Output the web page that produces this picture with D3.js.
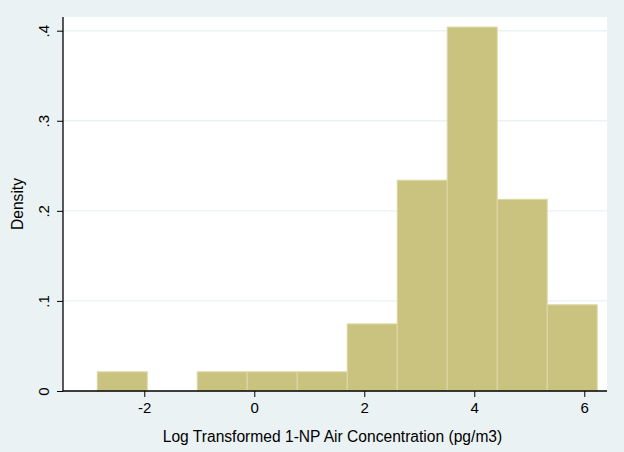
<!DOCTYPE html>
<html>
<head>
<meta charset="utf-8">
<script src="https://cdn.jsdelivr.net/npm/d3@7"></script>
<style>
  html, body { margin: 0; padding: 0; background: #eaf2f3; }
  svg { display: block; font-family: "Liberation Sans", Arial, Helvetica, sans-serif; }
</style>
</head>
<body>
<script>
// Histogram bins: left edge, bin width and density of each bin
const binStart = -2.855;
const binWidth = 0.909;
const densities = [0.0213, 0, 0.0213, 0.0213, 0.0213, 0.0745, 0.234, 0.404, 0.2128, 0.0957];
const xTicks = [-2, 0, 2, 4, 6];
const yTicks = [0, 0.1, 0.2, 0.3, 0.4];
const yTickLabels = ["0", ".1", ".2", ".3", ".4"];
const xTitle = "Log Transformed 1-NP Air Concentration (pg/m3)";
const yTitle = "Density";

const W = 624, H = 452;
const margin = { left: 63, right: 17, top: 17, bottom: 61 };
const tickFont = 15;
const titleFont = 15.6;

const svg = d3.select("body").append("svg").attr("width", W).attr("height", H);
svg.append("rect").attr("width", W).attr("height", H).attr("fill", "#eaf2f3");

const x = d3.scaleLinear().domain([-3.478, 6.413]).range([margin.left, W - margin.right]);
const y = d3.scaleLinear().domain([0, 0.4152]).range([H - margin.bottom, margin.top]);

// plot region
svg.append("rect")
  .attr("x", margin.left).attr("y", margin.top)
  .attr("width", W - margin.left - margin.right)
  .attr("height", H - margin.top - margin.bottom)
  .attr("fill", "#ffffff");

// horizontal grid lines
svg.append("g").selectAll("line")
  .data(yTicks.filter(d => d > 0))
  .join("line")
  .attr("x1", margin.left).attr("x2", W - margin.right)
  .attr("y1", d => y(d)).attr("y2", d => y(d))
  .attr("stroke", "#eaf2f3").attr("stroke-width", 1.4);

// bars
const bins = densities.map((d, i) => ({ x0: binStart + i * binWidth, x1: binStart + (i + 1) * binWidth, d }));
svg.append("g").selectAll("rect")
  .data(bins.filter(b => b.d > 0))
  .join("rect")
  .attr("x", b => x(b.x0))
  .attr("width", b => x(b.x1) - x(b.x0))
  .attr("y", b => y(b.d))
  .attr("height", b => y(0) - y(b.d))
  .attr("fill", "#cac380")
  .attr("stroke", "#dcd8a6")
  .attr("stroke-width", 1);

// axes
const xAxis = d3.axisBottom(x).tickValues(xTicks).tickSize(6).tickPadding(5).tickFormat(d => String(d));
const yAxis = d3.axisLeft(y).tickValues(yTicks).tickSize(6).tickFormat((d, i) => yTickLabels[i]);

const gx = svg.append("g").attr("transform", `translate(0,${H - margin.bottom})`).call(xAxis);
gx.select(".domain").attr("d", `M${margin.left},0H${W - margin.right}`).attr("stroke", "#000").attr("stroke-width", 1.3);
gx.selectAll(".tick line").attr("stroke", "#000");
gx.selectAll(".tick text").attr("font-size", tickFont).attr("fill", "#000")
  .attr("font-family", "Liberation Sans, Arial, sans-serif");

const gy = svg.append("g").attr("transform", `translate(${margin.left},0)`).call(yAxis);
gy.select(".domain").attr("d", `M0,${margin.top}V${H - margin.bottom}`).attr("stroke", "#000").attr("stroke-width", 1.3);
gy.selectAll(".tick line").attr("stroke", "#000");
gy.selectAll(".tick text")
  .attr("font-size", tickFont).attr("fill", "#000")
  .attr("font-family", "Liberation Sans, Arial, sans-serif")
  .attr("text-anchor", "middle")
  .attr("x", null).attr("dy", null)
  .attr("transform", "translate(-14,0) rotate(-90)");

// axis titles
svg.append("text")
  .attr("x", 332.5).attr("y", 442)
  .attr("text-anchor", "middle").attr("font-size", titleFont).attr("fill", "#000")
  .text(xTitle);

svg.append("text")
  .attr("transform", `translate(23,${(margin.top + H - margin.bottom) / 2}) rotate(-90)`)
  .attr("text-anchor", "middle").attr("font-size", titleFont).attr("fill", "#000")
  .text(yTitle);
</script>
</body>
</html>
